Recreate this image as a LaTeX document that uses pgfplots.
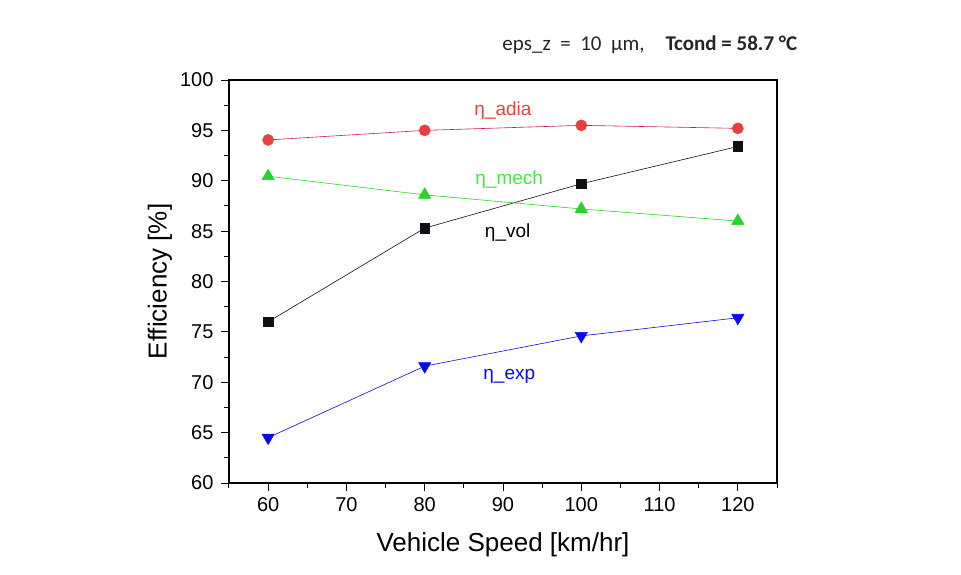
\documentclass[border=0pt]{standalone}
\usepackage{pgfplots}
\pgfplotsset{compat=1.18}
\usepackage{fontspec}
\setmainfont{Liberation Sans}
\newfontfamily\titlefont{Carlito}
\definecolor{cred}{RGB}{232,64,64}
\definecolor{credline}{RGB}{200,30,70}
\definecolor{cgreen}{RGB}{40,210,40}
\definecolor{cgreenlbl}{RGB}{70,230,70}
\definecolor{cblue}{RGB}{10,10,240}
\definecolor{cblack}{RGB}{15,15,20}
\begin{document}
\begin{tikzpicture}[x=1pt,y=1pt]
\path (-229,-91) rectangle (732,483);
\begin{axis}[
  at={(0,0)}, anchor=south west,
  width=548pt, height=403pt, scale only axis,
  xmin=55, xmax=125, ymin=60, ymax=100,
  xtick={60,70,...,120}, ytick={60,65,...,100},
  minor xtick={55,65,...,125}, minor ytick={62.5,67.5,...,97.5},
  xtick pos=bottom, ytick pos=left,
  tick align=outside,
  major tick length=8pt, minor tick length=5pt,
  every tick/.style={black, line width=1pt},
  axis line style={line width=1.2pt},
  tick label style={font=\fontsize{20}{20}\selectfont},
  xticklabel style={yshift=-3pt},
  yticklabel style={xshift=-4pt},
  /pgf/number format/assume math mode=true,
  xlabel={Vehicle Speed [km/hr]},
  ylabel={Efficiency [\%]},
  xlabel style={font=\fontsize{26}{26}\selectfont, at={(rel axis cs:0.5,0)}, anchor=center, yshift=-62pt},
  ylabel style={font=\fontsize{26}{26}\selectfont, at={(rel axis cs:0,0.5)}, anchor=center, yshift=69pt},
  clip=false,
]
\addplot[credline, line width=0.6pt, mark=*, mark size=5.5pt, mark options={draw=cred, fill=cred}]
  coordinates {(60,94.05) (80,95.0) (100,95.5) (120,95.2)};
\addplot[cblack, line width=0.6pt, mark=square*, mark size=4.8pt, mark options={draw=cblack, fill=cblack}]
  coordinates {(60,76.0) (80,85.3) (100,89.7) (120,93.4)};
\addplot[cgreen, line width=0.6pt, mark=triangle*, mark size=7pt, mark options={draw=cgreen, fill=cgreen}]
  coordinates {(60,90.45) (80,88.6) (100,87.2) (120,86.0)};
\addplot[cblue, line width=0.6pt, mark=triangle*, mark size=7pt, mark options={draw=cblue, fill=cblue, rotate=180}]
  coordinates {(60,64.5) (80,71.6) (100,74.6) (120,76.4)};
\node[text=cred, font=\fontsize{19}{19}\selectfont] at (axis cs:90.0,97.0) {η\_adia};
\node[text=cgreenlbl, font=\fontsize{19}{19}\selectfont] at (axis cs:90.8,90.1) {η\_mech};
\node[text=black, font=\fontsize{19}{19}\selectfont] at (axis cs:90.6,84.9) {η\_vol};
\node[text=cblue, font=\fontsize{19}{19}\selectfont] at (axis cs:90.8,70.6) {η\_exp};
\node[text=black!85, font=\titlefont\fontsize{21}{21}\selectfont] at (rel axis cs:0.768,1.087) {eps\_z\ \ =\ \ 10\ \ µm,\quad \textbf{Tcond = 58.7 °C}};
\end{axis}
\end{tikzpicture}
\end{document}
